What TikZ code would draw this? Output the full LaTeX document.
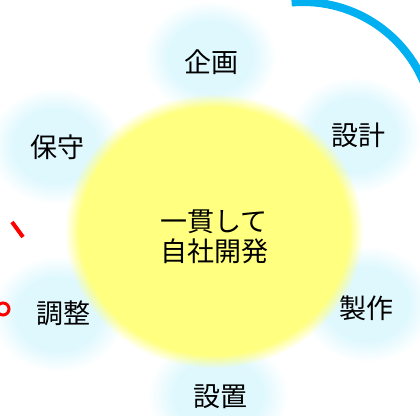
\documentclass[tikz,border=0pt]{standalone}
\usepackage{fontspec}
\newfontfamily\jpfont{Noto Sans CJK JP}
\usetikzlibrary{fadings}
\definecolor{haloblue}{HTML}{DFF8FE}
\definecolor{coreyellow}{HTML}{FFFF80}
\definecolor{ringblue}{HTML}{00B0F0}
\definecolor{markred}{HTML}{FF0000}
\pgfdeclareradialshading{softhaloshade}{\pgfpointorigin}{color(0bp)=(pgftransparent!0); color(16bp)=(pgftransparent!0); color(25bp)=(pgftransparent!100); color(50bp)=(pgftransparent!100)}
\pgfdeclarefading{softhalo}{\pgfuseshading{softhaloshade}}
\begin{document}
\begin{tikzpicture}[x=1pt, y=-1pt,
    halo/.style={fill=haloblue, path fading=softhalo},
    core/.style={fill=coreyellow, path fading=circle with fuzzy edge 10 percent},
    phase/.style={font=\jpfont\fontsize{27}{30}\selectfont, align=center, inner sep=0pt}]
    \useasboundingbox (0, 0) rectangle (420, 415);
    \clip (0, 0) rectangle (420, 415);
    \fill[halo] (210, 57) ellipse [x radius=66pt, y radius=56pt];
    \fill[halo] (355, 135) ellipse [x radius=66pt, y radius=58pt];
    \fill[halo] (367, 304) ellipse [x radius=66pt, y radius=58pt];
    \fill[halo] (218, 395) ellipse [x radius=70pt, y radius=56pt];
    \fill[halo] (58, 314) ellipse [x radius=66pt, y radius=58pt];
    \fill[halo] (55, 146) ellipse [x radius=66pt, y radius=58pt];
    \fill[core] (214, 231) ellipse [x radius=149pt, y radius=137pt];
    \node[phase] (plan) at (211, 62) {企画};
    \node[phase] (design) at (358, 135) {設計};
    \node[phase] (build) at (366, 308) {製作};
    \node[phase] (install) at (220, 397) {設置};
    \node[phase] (tune) at (63, 313) {調整};
    \node[phase] (maint) at (57, 147) {保守};
    \node[phase] (inhouse) at (214, 237) {一貫して\\自社開発};
    \coordinate (ringc) at (303, 133);
    \draw[ringblue, line width=8pt] (ringc) ++(95:131pt) arc [start angle=95, end angle=15, radius=131pt];
    \draw[markred, line width=4pt] (12, 222) -- (23, 237);
    \draw[markred, line width=3pt] (3, 309) circle [radius=6pt];
\end{tikzpicture}
\end{document}
